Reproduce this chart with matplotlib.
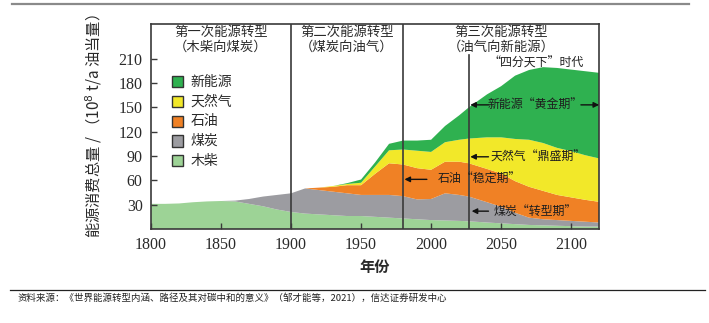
import matplotlib
matplotlib.use("Agg")
import matplotlib.pyplot as plt
from matplotlib.patches import Rectangle

plt.rcParams['font.family'] = ['Noto Sans CJK SC', 'DejaVu Sans']

# Energy consumption by source, 10^8 t/a oil equivalent
years = [1800, 1810, 1820, 1830, 1840, 1850, 1860, 1870, 1880, 1890, 1900,
         1910, 1920, 1930, 1940, 1950, 1960, 1970, 1980, 1990, 2000, 2010,
         2020, 2027, 2040, 2050, 2060, 2070, 2080, 2090, 2100, 2110, 2120]
wood = [31, 31, 31.5, 33, 34, 34.5, 34, 31, 28, 24, 21,
        19, 18, 17, 16, 16, 15, 14, 13, 12, 11, 10.5,
        10, 9.5, 8, 7, 6, 5, 4.5, 4, 3.5, 3, 3]
coal = [0, 0, 0, 0, 0, 0, 1, 6, 12, 18, 23,
        31, 30, 29, 28, 26, 27, 28, 27.5, 24.5, 26, 33.5,
        32, 30.5, 25, 20.5, 14, 9, 7.5, 7, 6.5, 6, 5]
oil = [0, 0, 0, 0, 0, 0, 0, 0, 0, 0, 0,
       0, 3, 6, 10, 12, 26, 39, 39, 38.5, 36, 39,
       41, 41, 41, 41, 39, 38, 35, 31, 29, 27, 25.5]
gas = [0, 0, 0, 0, 0, 0, 0, 0, 0, 0, 0,
       0, 0, 1, 1.5, 3, 9, 16, 18.5, 21.5, 22, 24,
       27, 30.5, 39, 44.5, 52, 58, 59, 58, 57, 55, 53.5]
new_energy = [0, 0, 0, 0, 0, 0, 0, 0, 0, 0, 0,
              0, 0, 0, 1, 4, 5, 8, 11, 12.5, 15, 20,
              30, 38.5, 53, 63, 78, 86, 93.5, 98.5, 100.5, 103.5, 105.5]

series_names = ['木柴', '煤炭', '石油', '天然气', '新能源']
colors = ['#9dd396', '#9c9ca1', '#f08125', '#f2e829', '#2fb150']

stage_bounds = [1800, 1900, 1980, 2120]
stage_titles = ['第一次能源转型\n（木柴向煤炭）',
                '第二次能源转型\n（煤炭向油气）',
                '第三次能源转型\n（油气向新能源）']
outlook_year = 2027

x_ticks = [1800, 1850, 1900, 1950, 2000, 2050, 2100]
y_ticks = [30, 60, 90, 120, 150, 180, 210]

fig = plt.figure(figsize=(7.09, 3.23), dpi=100)
ax = fig.add_axes([0.213, 0.291, 0.632, 0.635])

ax.stackplot(years, wood, coal, oil, gas, new_energy, colors=colors,
             linewidth=0, zorder=1)

data_top = 214.5
ax.set_xlim(1800, 2120)
ax.set_ylim(0, 252.8)

frame_c = '#3a3a3a'
for s in ax.spines.values():
    s.set_color(frame_c)
    s.set_linewidth(1.2)

# stage dividers run through the header row
for b in stage_bounds[1:-1]:
    ax.axvline(b, color=frame_c, lw=1.2, zorder=3)
ax.plot([outlook_year, outlook_year], [0, data_top], color=frame_c, lw=1.2, zorder=3)

for i, t in enumerate(stage_titles):
    xc = (stage_bounds[i] + stage_bounds[i + 1]) / 2
    ax.text(xc, 233.5, t, ha='center', va='center', fontsize=9.6,
            color='#2a2a2a', linespacing=1.05)

ax.set_xticks(x_ticks)
ax.set_yticks(y_ticks)
ax.tick_params(direction='in', length=4, width=1, color=frame_c,
               labelsize=11.5, pad=6)
for lab in ax.get_xticklabels() + ax.get_yticklabels():
    lab.set_fontfamily('Liberation Serif')
    lab.set_color('#2a2a2a')

ax.set_xlabel('年份', fontsize=11, color='#2a2a2a', labelpad=4,
              fontweight='bold')
ax.set_ylabel('能源消费总量 / （10$^8$ t/a 油当量）', fontsize=11,
              color='#2a2a2a', labelpad=8)
ax.yaxis.set_label_coords(-0.105, 0.5)

# legend, drawn top to bottom from newest source
leg_items = list(zip(series_names, colors))[::-1]
for k, (name, c) in enumerate(leg_items):
    yc = 0.717 - k * 0.0962
    ax.add_patch(Rectangle((0.046, yc - 0.027), 0.026, 0.055,
                           transform=ax.transAxes, facecolor=c,
                           edgecolor='#333333', lw=1.0, zorder=5,
                           clip_on=False))
    ax.text(0.088, yc, name, transform=ax.transAxes, va='center',
            ha='left', fontsize=10, color='#2a2a2a')

ann_c = '#1e1e1e'
ann_fs = 8.6
ax.text(2075, 204, '“四分天下”时代', ha='center', va='center',
        fontsize=ann_fs, color=ann_c)


def arrow(x0, x1, y):
    ax.annotate('', xy=(x1, y), xytext=(x0, y),
                arrowprops=dict(arrowstyle='-|>', color='#111111', lw=1.0,
                                mutation_scale=8, shrinkA=0, shrinkB=0),
                zorder=6)


y_gold = 153
arrow(2041, 2028, y_gold)
ax.text(2074, y_gold, '新能源“黄金期”', ha='center', va='center',
        fontsize=ann_fs, color=ann_c)
arrow(2107, 2120, y_gold)

y_gas = 89
arrow(2041, 2028, y_gas)
ax.text(2042.5, y_gas, '天然气“鼎盛期”', ha='left', va='center',
        fontsize=ann_fs, color=ann_c)

y_oil = 61.2
arrow(1997, 1981, y_oil)
ax.text(2034.7, y_oil, '石油“稳定期”', ha='center', va='center',
        fontsize=ann_fs, color=ann_c)

y_coal = 22
arrow(2041, 2029, y_coal)
ax.text(2044.6, y_coal, '煤炭“转型期”', ha='left', va='center',
        fontsize=ann_fs, color=ann_c)

# page rules and source note
fig.add_artist(plt.Line2D([12 / 709, 689 / 709], [1 - 4 / 323, 1 - 4 / 323],
                          color='#8a8a8a', lw=1.6))
fig.add_artist(plt.Line2D([10 / 709, 705 / 709], [1 - 289.5 / 323, 1 - 289.5 / 323],
                          color='#222222', lw=0.9))
fig.text(17 / 709, 1 - 298.5 / 323,
         '资料来源：《世界能源转型内涵、路径及其对碳中和的意义》（邹才能等，2021），信达证券研发中心',
         fontsize=6.8, color='#222222', va='center', ha='left')

fig.savefig('out.png', dpi=100)
